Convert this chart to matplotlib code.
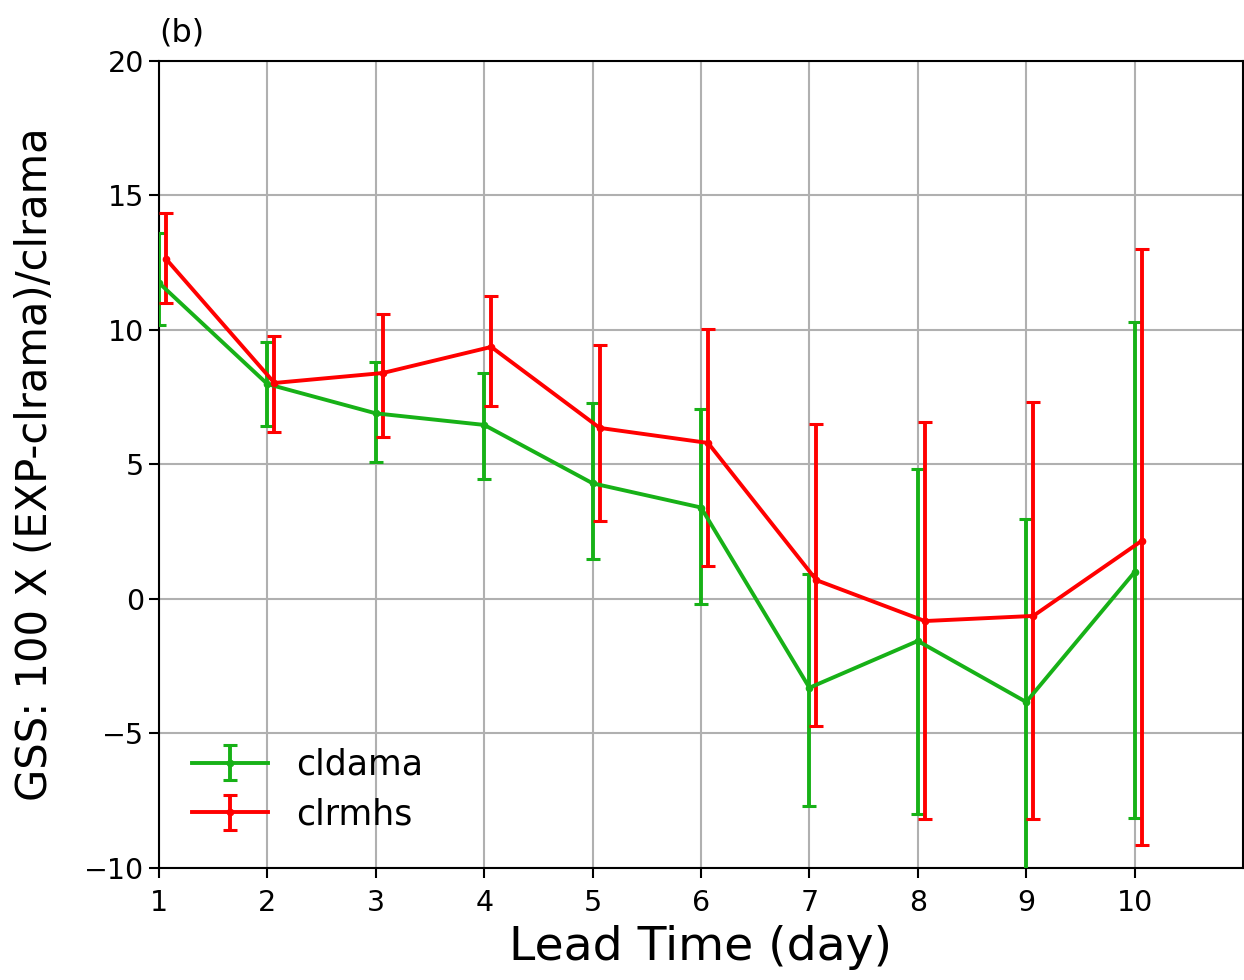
import numpy as np
import matplotlib
matplotlib.use('Agg')
import matplotlib.pyplot as plt

lead_days = [1, 2, 3, 4, 5, 6, 7, 8, 9, 10]

cldama = [11.75, 7.99, 6.9, 6.47, 4.3, 3.4, -3.3, -1.56, -3.83, 1.0]
cldama_hi = [13.6, 9.55, 8.8, 8.4, 7.3, 7.06, 0.93, 4.85, 2.97, 10.3]
cldama_lo = [10.2, 6.43, 5.1, 4.46, 1.5, -0.2, -7.7, -8.0, -10.6, -8.14]

clrmhs = [12.64, 8.03, 8.4, 9.37, 6.36, 5.8, 0.7, -0.82, -0.63, 2.16]
clrmhs_hi = [14.35, 9.78, 10.6, 11.26, 9.44, 10.04, 6.5, 6.58, 7.32, 13.0]
clrmhs_lo = [11.0, 6.2, 6.02, 7.17, 2.9, 1.23, -4.72, -8.18, -8.18, -9.14]

x = np.array(lead_days, dtype=float)

fig = plt.figure(figsize=(12.44, 9.8), dpi=100)
ax = fig.add_axes([0.1278, 0.1143, 0.8714, 0.8235])

g = np.array(cldama)
r = np.array(clrmhs)
g_err = [g - np.array(cldama_lo), np.array(cldama_hi) - g]
r_err = [r - np.array(clrmhs_lo), np.array(clrmhs_hi) - r]

ax.errorbar(x, g, yerr=g_err, color='#17b117', lw=2.8, marker='o', ms=4.5,
            capsize=5, capthick=2.2, elinewidth=2.8, label='cldama', zorder=3)
ax.errorbar(x + 0.065, r, yerr=r_err, color='red', lw=2.8, marker='o', ms=4.5,
            capsize=5, capthick=2.2, elinewidth=2.8, label='clrmhs', zorder=3)

ax.set_xlim(1, 11)
ax.set_ylim(-10, 20)
ax.set_xticks(lead_days)
ax.set_yticks([-10, -5, 0, 5, 10, 15, 20])
ax.tick_params(labelsize=20.5, length=7, width=1.5)
ax.tick_params(axis='x', pad=8)
ax.grid(True, color='#b0b0b0', lw=1.5)
for s in ax.spines.values():
    s.set_linewidth(1.5)

ax.set_xlabel('Lead Time (day)', fontsize=34, labelpad=6)
ax.set_ylabel('GSS: 100 X (EXP-clrama)/clrama', fontsize=30, labelpad=20)
ax.set_title('(b)', loc='left', fontsize=23, pad=14)

ax.legend(loc='lower left', fontsize=25, frameon=False, handlelength=2.2,
          labelspacing=0.45, handletextpad=0.8,
          borderaxespad=0.3, bbox_to_anchor=(0.008, 0.015))

fig.savefig('out.png', dpi=100)
